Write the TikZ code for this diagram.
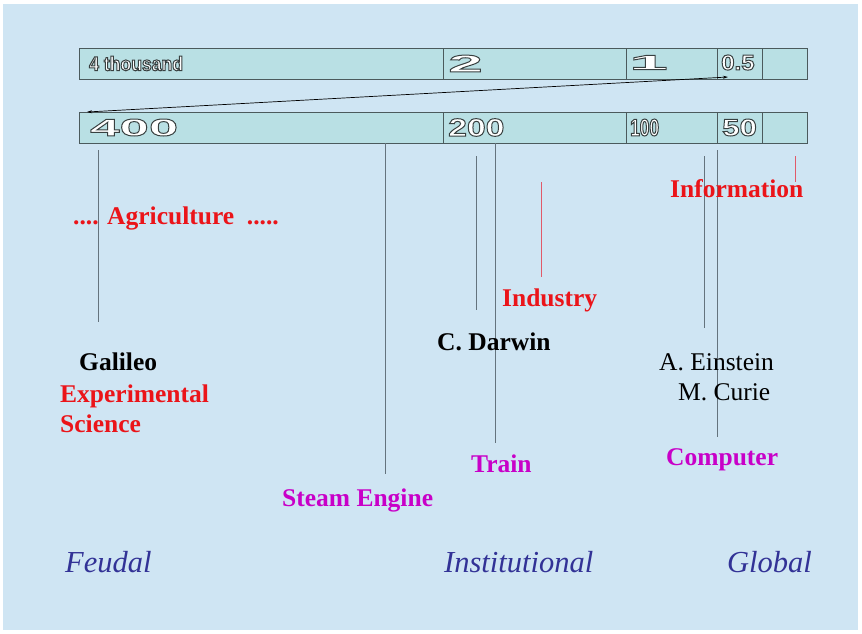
\documentclass[tikz,border=0pt]{standalone}
\usepackage{fontspec}
\setmainfont{Liberation Serif}
\usetikzlibrary{arrows.meta, positioning}

\definecolor{pagebg}{RGB}{207,229,243}
\definecolor{barfill}{RGB}{185,224,228}
\definecolor{barline}{RGB}{75,90,92}
\definecolor{evred}{RGB}{235,20,25}
\definecolor{invmag}{RGB}{200,0,200}
\definecolor{erablue}{RGB}{50,50,150}
\definecolor{tickgray}{RGB}{100,115,125}
\definecolor{tickred}{RGB}{225,90,105}

% outlined, stretched numbers in the bars
\newcommand\barnum[3]{{\fontspec{Liberation Sans}[FakeStretch=#1]\bfseries\fontsize{#2}{#2}\selectfont
  \special{pdf:literal direct 0.22 0.25 0.25 RG 1.0 w 2 Tr}#3\special{pdf:literal direct 0 Tr}}}

\begin{document}
\begin{tikzpicture}[x=1pt, y=-1pt,
    cell/.style={rectangle, draw=barline, fill=barfill, line width=0.9pt, minimum height=31pt, inner sep=0pt, outer sep=0pt, anchor=north west},
    barlbl/.style={inner sep=0pt, text=white, anchor=west},
    lbl/.style={inner sep=0pt, anchor=base west, font=\fontsize{25.5}{28}\selectfont\bfseries},
    ev/.style={lbl, text=evred},
    inv/.style={lbl, text=invmag},
    who/.style={lbl, text=black},
    era/.style={inner sep=0pt, anchor=base west, text=erablue, font=\fontsize{30.5}{32}\selectfont\itshape},
    tick/.style={tickgray, line width=1pt},
    redtick/.style={tickred, line width=0.8pt},
]
\useasboundingbox (0,0) rectangle (862,633);
\fill[white] (0,0) rectangle (862,633);
\fill[pagebg] (3,4) rectangle (858,630);

% upper bar
\node[cell, minimum width=364pt] (t1) at (79,48) {};
\node[cell, minimum width=183pt] (t2) at (443,48) {};
\node[cell, minimum width=91pt] (t3) at (626,48) {};
\node[cell, minimum width=45pt] (t4) at (717,48) {};
\node[cell, minimum width=45pt] (t5) at (762,48) {};
% lower bar
\node[cell, minimum width=364pt] (b1) at (79,112) {};
\node[cell, minimum width=183pt] (b2) at (443,112) {};
\node[cell, minimum width=91pt] (b3) at (626,112) {};
\node[cell, minimum width=45pt] (b4) at (717,112) {};
\node[cell, minimum width=45pt] (b5) at (762,112) {};

\node[barlbl] (n4k) at ([xshift=10pt]t1.west) {\barnum{0.88}{20}{4 thousand}};
\node[barlbl] (n2) at ([xshift=5pt]t2.west) {\barnum{2.6}{24}{2}};
\node[barlbl] (n1) at ([xshift=3pt,yshift=1pt]t3.west) {\barnum{3.4}{20.5}{1}};
\node[barlbl] (nhalf) at ([xshift=4pt,yshift=1pt]t4.west) {\barnum{1.12}{21.5}{0.5}};
\node[barlbl] (n400) at ([xshift=11pt]b1.west) {\barnum{2.2}{24}{400}};
\node[barlbl] (n200) at ([xshift=5pt]b2.west) {\barnum{1.35}{25}{200}};
\node[barlbl] (n100) at ([xshift=4pt]b3.west) {\barnum{0.72}{24}{100}};
\node[barlbl] (n50) at ([xshift=5pt]b4.west) {\barnum{1.3}{24}{50}};

\draw[{Stealth[length=5pt,width=3pt]}-{Stealth[length=5pt,width=3pt]}, line width=0.7pt]
  ([xshift=8pt]b1.north west) -- ([xshift=11pt,yshift=2pt]t4.south west);

% time marks
\coordinate (gal1) at (98,150);  \coordinate (gal2) at (98,322);
\coordinate (ste1) at (385,143); \coordinate (ste2) at (385,474);
\coordinate (dar1) at (476,156); \coordinate (dar2) at (476,310);
\coordinate (tra1) at (495,143); \coordinate (tra2) at (495,443);
\coordinate (ind1) at (541,182); \coordinate (ind2) at (541,277);
\coordinate (ein1) at (704,156); \coordinate (ein2) at (704,328);
\coordinate (com1) at (717,150); \coordinate (com2) at (717,437);
\coordinate (inf1) at (795,156); \coordinate (inf2) at (795,182);
\draw[tick] (gal1) -- (gal2);
\draw[tick] (ste1) -- (ste2);
\draw[tick] (dar1) -- (dar2);
\draw[tick] (tra1) -- (tra2);
\draw[tick] (ein1) -- (ein2);
\draw[tick] (com1) -- (com2);
\draw[redtick] (ind1) -- (ind2);
\draw[redtick] (inf1) -- (inf2);

% labels
\node[ev] (agri) at (73,224) {.... Agriculture \ .....};
\node[ev] (info) at (670,197) {Information};
\node[ev] (indu) at (502,306) {Industry};
\node[who] (darw) at (437,350) {C. Darwin};
\node[who] (gali) at (79,370) {Galileo};
\node[ev] (expe) at (60,402) {Experimental};
\node[ev] (scie) at (60,432) {Science};
\node[inv] (trai) at (471,472) {Train};
\node[inv] (stea) at (282,506) {Steam Engine};
\node[inv] (comp) at (666,465) {Computer};
\node[lbl, font=\fontsize{25.5}{28}\selectfont] (eins) at (659,370) {A. Einstein};
\node[lbl, font=\fontsize{25.5}{28}\selectfont] (curi) at (678,400) {M. Curie};

\node[era] (feud) at (65,572) {Feudal};
\node[era] (inst) at (444,572) {Institutional};
\node[era] (glob) at (727,572) {Global};
\end{tikzpicture}
\end{document}
